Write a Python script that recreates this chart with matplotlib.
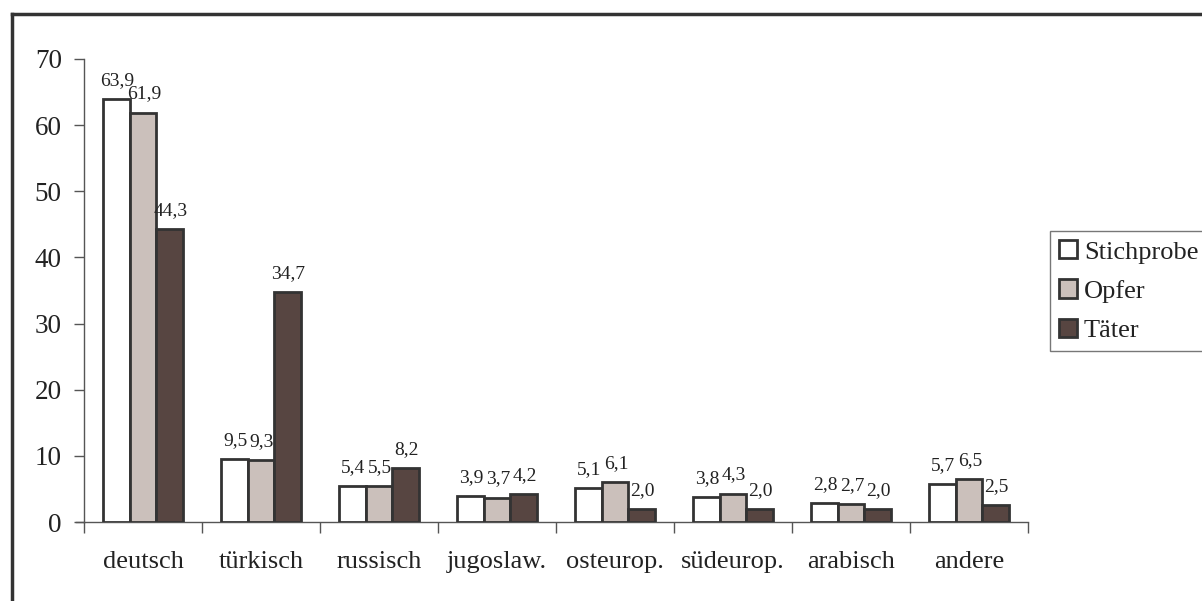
import matplotlib.pyplot as plt
import numpy as np
from matplotlib.lines import Line2D

plt.rcParams['font.family'] = ['Liberation Serif', 'DejaVu Serif']

categories = ['deutsch', 'türkisch', 'russisch', 'jugoslaw.', 'osteurop.',
              'südeurop.', 'arabisch', 'andere']
stichprobe = [63.9, 9.5, 5.4, 3.9, 5.1, 3.8, 2.8, 5.7]
opfer = [61.9, 9.3, 5.5, 3.7, 6.1, 4.3, 2.7, 6.5]
taeter = [44.3, 34.7, 8.2, 4.2, 2.0, 2.0, 2.0, 2.5]
series = ['Stichprobe', 'Opfer', 'Täter']
colors = ['#ffffff', '#cbc0bb', '#574541']

W, H = 1202, 601
fig = plt.figure(figsize=(W / 100, H / 100), dpi=100)
ax = fig.add_axes([84 / W, 1 - 522 / H, (1028 - 84) / W, (522 - 59) / H])

x = np.arange(len(categories))
bw = 0.225
for i, (vals, name, c) in enumerate(zip([stichprobe, opfer, taeter], series, colors)):
    pos = x + (i - 1) * bw
    ax.bar(pos, vals, width=bw, color=c, edgecolor='#333333', linewidth=2,
           label=name, zorder=3)
    for p, v in zip(pos, vals):
        ax.annotate(f'{v:.1f}'.replace('.', ','), (p, v), xytext=(1, 14),
                    textcoords='offset pixels', ha='center', va='baseline',
                    fontsize=14, color='#222222')

ax.set_xlim(-0.5, len(categories) - 0.5)
ax.set_ylim(0, 70)
ax.set_yticks(range(0, 71, 10))
ax.tick_params(axis='y', labelsize=19.5, length=7, width=1, color='#555555',
               pad=9, labelcolor='#222222')

# category labels centered, ticks at boundaries
ax.set_xticks(x)
ax.set_xticklabels(categories, fontsize=19, color='#222222')
ax.tick_params(axis='x', length=0, pad=21)
ax.set_xticks(np.arange(-0.5, len(categories)), minor=True)
ax.tick_params(axis='x', which='minor', length=8, width=1, color='#555555',
               direction='out')

for s in ['top', 'right']:
    ax.spines[s].set_visible(False)
for s in ['left', 'bottom']:
    ax.spines[s].set_color('#555555')
    ax.spines[s].set_linewidth(1)

# little extension of the x axis to the left of the y axis
ax.plot([-0.5 - 8 / 118, -0.5], [0, 0], color='#555555', lw=1,
        clip_on=False, zorder=2)

leg = ax.legend(loc='upper left', bbox_to_anchor=(1050 / W, 1 - 231 / H),
                bbox_transform=fig.transFigure, borderaxespad=0,
                fontsize=19, frameon=True, fancybox=False,
                handlelength=0.68, handleheight=0.68, handletextpad=0.25,
                labelspacing=0.6, borderpad=0.35)
leg.get_frame().set_edgecolor('#555555')
leg.get_frame().set_linewidth(1)
for t in leg.get_texts():
    t.set_color('#222222')

# outer frame
fig.add_artist(Line2D([12 / W, 12 / W], [0, 1 - 14 / H], color='#333333',
                      lw=2.5, transform=fig.transFigure))
fig.add_artist(Line2D([12 / W, 1], [1 - 14 / H, 1 - 14 / H], color='#333333',
                      lw=2.5, transform=fig.transFigure))

fig.savefig('out.png', dpi=100)
